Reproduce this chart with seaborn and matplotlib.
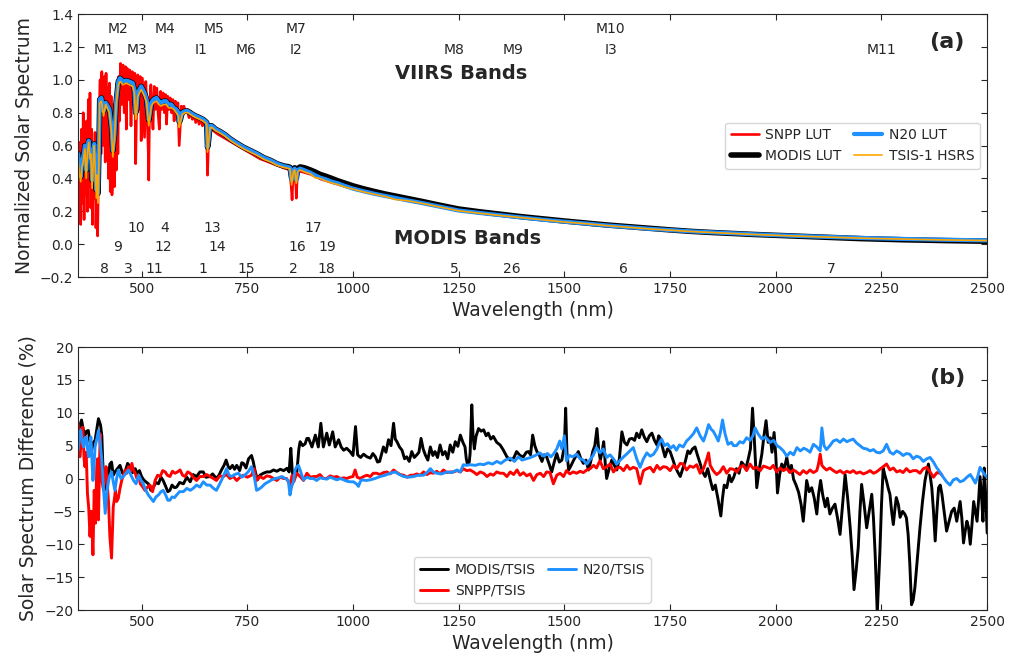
import matplotlib
matplotlib.use("Agg")
import matplotlib.pyplot as plt
import seaborn as sns

# ---- panel (a): normalized solar spectra ----
wl_lut = [350, 353, 356, 359, 362, 366, 369, 372, 375, 378,
          380, 383, 386, 388, 391, 393, 395, 397, 399, 401,
          405, 410, 415, 420, 424, 429, 432, 436, 440, 445,
          449, 456, 464, 471, 479, 483, 486, 488, 491, 499,
          507, 512, 517, 520, 523, 528, 535, 541, 546, 552,
          558, 564, 570, 576, 582, 587, 589, 591, 596, 603,
          609, 615, 621, 628, 637, 645, 650, 654, 656, 658,
          662, 666, 675, 686, 698, 710, 725, 741, 757, 773,
          790, 805, 820, 836, 846, 851, 855, 859, 862, 866,
          869, 875, 885, 899, 910, 922, 935, 950, 965, 980,
          1000, 1025, 1050, 1075, 1100, 1130, 1160, 1200, 1250, 1300,
          1350, 1400, 1450, 1500, 1550, 1600, 1650, 1700, 1750, 1800,
          1850, 1900, 1950, 2000, 2100, 2200, 2300, 2400, 2500]

n20_lut = [0.55, 0.47, 0.41, 0.50, 0.53, 0.60, 0.45, 0.58, 0.63, 0.55,
           0.57, 0.39, 0.55, 0.61, 0.45, 0.33, 0.45, 0.31, 0.55, 0.88,
           0.89, 0.81, 0.86, 0.84, 0.82, 0.71, 0.57, 0.67, 0.87, 0.99,
           1.01, 0.99, 0.995, 0.99, 0.98, 0.94, 0.80, 0.82, 0.92, 0.96,
           0.92, 0.88, 0.755, 0.80, 0.86, 0.88, 0.89, 0.87, 0.86, 0.87,
           0.87, 0.85, 0.85, 0.83, 0.82, 0.80, 0.745, 0.75, 0.80, 0.81,
           0.81, 0.80, 0.79, 0.78, 0.77, 0.76, 0.75, 0.74, 0.59, 0.62,
           0.72, 0.72, 0.70, 0.685, 0.665, 0.64, 0.615, 0.59, 0.57, 0.55,
           0.525, 0.51, 0.49, 0.475, 0.47, 0.465, 0.39, 0.45, 0.46, 0.39,
           0.45, 0.46, 0.45, 0.435, 0.42, 0.405, 0.395, 0.38, 0.37, 0.355,
           0.338, 0.322, 0.307, 0.294, 0.281, 0.266, 0.252, 0.231, 0.205, 0.19,
           0.176, 0.162, 0.149, 0.137, 0.126, 0.114, 0.104, 0.094, 0.086, 0.078,
           0.072, 0.066, 0.060, 0.055, 0.046, 0.038, 0.032, 0.027, 0.023]

modis_lut = [0.55, 0.47, 0.41, 0.50, 0.53, 0.60, 0.45, 0.58, 0.63, 0.55,
             0.57, 0.39, 0.55, 0.61, 0.45, 0.33, 0.45, 0.31, 0.55, 0.88,
             0.89, 0.81, 0.86, 0.84, 0.82, 0.71, 0.57, 0.67, 0.87, 0.99,
             1.01, 0.99, 0.995, 0.99, 0.98, 0.94, 0.80, 0.82, 0.92, 0.96,
             0.92, 0.88, 0.755, 0.80, 0.86, 0.88, 0.89, 0.87, 0.86, 0.87,
             0.87, 0.85, 0.85, 0.83, 0.82, 0.80, 0.745, 0.75, 0.80, 0.81,
             0.81, 0.80, 0.79, 0.78, 0.77, 0.76, 0.75, 0.74, 0.59, 0.62,
             0.72, 0.72, 0.70, 0.685, 0.665, 0.64, 0.615, 0.59, 0.57, 0.55,
             0.525, 0.51, 0.49, 0.476, 0.472, 0.468, 0.40, 0.455, 0.465, 0.40,
             0.46, 0.47, 0.465, 0.452, 0.44, 0.425, 0.414, 0.40, 0.385, 0.372,
             0.355, 0.337, 0.321, 0.306, 0.293, 0.277, 0.262, 0.24, 0.214, 0.197,
             0.182, 0.167, 0.154, 0.141, 0.129, 0.117, 0.107, 0.097, 0.087, 0.078,
             0.071, 0.065, 0.059, 0.054, 0.044, 0.034, 0.027, 0.022, 0.018]

tsis_lut = [0.52, 0.43, 0.38, 0.47, 0.50, 0.58, 0.40, 0.56, 0.62, 0.52,
            0.55, 0.34, 0.52, 0.60, 0.42, 0.28, 0.42, 0.25, 0.50, 0.86,
            0.87, 0.78, 0.85, 0.82, 0.80, 0.68, 0.53, 0.64, 0.85, 0.97,
            0.99, 0.97, 0.98, 0.97, 0.96, 0.92, 0.76, 0.80, 0.90, 0.94,
            0.90, 0.86, 0.72, 0.78, 0.84, 0.86, 0.87, 0.85, 0.84, 0.85,
            0.85, 0.83, 0.83, 0.82, 0.80, 0.78, 0.71, 0.73, 0.79, 0.80,
            0.80, 0.79, 0.78, 0.77, 0.76, 0.75, 0.74, 0.73, 0.56, 0.61,
            0.71, 0.71, 0.69, 0.675, 0.655, 0.63, 0.605, 0.58, 0.56, 0.54,
            0.515, 0.50, 0.48, 0.467, 0.462, 0.458, 0.36, 0.44, 0.452, 0.37,
            0.44, 0.452, 0.44, 0.428, 0.405, 0.40, 0.385, 0.372, 0.362, 0.348,
            0.335, 0.318, 0.304, 0.291, 0.272, 0.264, 0.25, 0.229, 0.203, 0.188,
            0.174, 0.161, 0.148, 0.135, 0.125, 0.113, 0.103, 0.093, 0.085, 0.077,
            0.071, 0.065, 0.059, 0.054, 0.045, 0.037, 0.031, 0.026, 0.022]

wl_snpp = [350, 352, 354, 356, 358, 360, 362, 364, 366, 368,
           370, 372, 374, 376, 378, 380, 382, 384, 386, 388,
           390, 392, 394, 396, 398, 400, 402, 404, 406, 408,
           410, 412, 414, 416, 418, 420, 422, 424, 426, 428,
           430, 432, 434, 436, 438, 440, 442, 444, 446, 448,
           450, 453, 456, 459, 462, 464, 466, 469, 472, 475,
           478, 481, 484, 486, 488, 491, 494, 497, 499, 502,
           505, 507, 510, 513, 516, 517, 519, 522, 525, 527,
           530, 533, 536, 539, 542, 545, 548, 551, 554, 557,
           559, 562, 565, 568, 571, 574, 577, 580, 583, 586,
           589, 591, 594, 597, 600, 604, 608, 612, 616, 620,
           624, 628, 632, 636, 640, 644, 648, 652, 655, 656,
           658, 661, 665, 670, 680, 690, 700, 710, 720, 730,
           740, 750, 760, 770, 780, 790, 800, 820, 840, 850,
           854, 856, 858, 862, 865, 866, 868, 872, 880, 900,
           925, 950, 1000, 1100, 1200, 1300, 1400, 1500, 1600, 1700,
           1800, 1900, 2000, 2100, 2200, 2300, 2400, 2500]

snpp_lut = [0.55, 0.18, 0.62, 0.12, 0.70, 0.25, 0.80, 0.15, 0.66, 0.30,
            0.75, 0.20, 0.88, 0.35, 0.92, 0.22, 0.70, 0.12, 0.60, 0.28,
            0.68, 0.10, 0.35, 0.05, 0.45, 0.82, 1.00, 0.55, 1.05, 0.60,
            0.75, 1.02, 0.50, 1.04, 0.62, 0.95, 0.40, 0.98, 0.32, 0.90,
            0.30, 0.45, 0.85, 0.35, 0.80, 0.45, 0.98, 0.55, 1.02, 0.75,
            1.10, 0.85, 1.09, 0.80, 1.08, 0.70, 1.07, 0.88, 1.06, 0.72,
            1.05, 0.85, 1.04, 0.49, 0.80, 1.03, 0.82, 1.02, 0.63, 1.01,
            0.80, 0.65, 0.99, 0.80, 0.55, 0.39, 0.85, 0.97, 0.78, 0.70,
            0.96, 0.82, 0.95, 0.80, 0.70, 0.93, 0.82, 0.92, 0.80, 0.91,
            0.73, 0.90, 0.82, 0.89, 0.80, 0.88, 0.75, 0.87, 0.80, 0.86,
            0.60, 0.70, 0.84, 0.78, 0.84, 0.80, 0.82, 0.77, 0.81, 0.76,
            0.79, 0.74, 0.78, 0.73, 0.77, 0.72, 0.75, 0.72, 0.55, 0.42,
            0.60, 0.72, 0.71, 0.69, 0.67, 0.655, 0.64, 0.625, 0.61, 0.595,
            0.58, 0.565, 0.55, 0.535, 0.52, 0.51, 0.50, 0.48, 0.46, 0.455,
            0.35, 0.27, 0.40, 0.445, 0.35, 0.28, 0.40, 0.445, 0.44, 0.425,
            0.395, 0.375, 0.338, 0.28, 0.23, 0.19, 0.163, 0.136, 0.113, 0.094,
            0.078, 0.066, 0.055, 0.046, 0.038, 0.032, 0.027, 0.023]

# band annotations (centre wavelengths)
viirs_top = ["M2", "M4", "M5", "M7", "M10"]
viirs_top_wl = [445, 555, 672, 865, 1610]
viirs_low = ["M1", "M3", "I1", "M6", "I2", "M8", "M9", "I3", "M11"]
viirs_low_wl = [412, 488, 640, 746, 865, 1240, 1378, 1610, 2250]
modis_r1 = ["10", "4", "13", "17"]
modis_r1_wl = [488, 555, 667, 905]
modis_r2 = ["9", "12", "14", "16", "19"]
modis_r2_wl = [443, 551, 678, 869, 940]
modis_r3 = ["8", "3", "11", "1", "15", "2", "18", "5", "26", "6", "7"]
modis_r3_wl = [412, 469, 531, 645, 748, 858, 936, 1240, 1375, 1640, 2130]

# ---- panel (b): differences relative to TSIS (%) ----
wl_modis_d = [350, 353, 358, 362, 366, 370, 374, 378, 382, 386,
              390, 394, 398, 403, 406, 408, 412, 417, 422, 425,
              429, 433, 437, 443, 449, 455, 461, 467, 473, 479,
              485, 489, 495, 500, 505, 510, 516, 522, 528, 534,
              540, 546, 551, 557, 562, 567, 572, 578, 583, 590,
              599, 607, 615, 622, 630, 638, 646, 652, 662, 668,
              677, 683, 689, 695, 700, 705, 709, 715, 720, 725,
              732, 737, 741, 747, 753, 760, 764, 768, 774, 780,
              788, 796, 804, 812, 820, 828, 836, 844, 849, 853,
              856, 859, 864, 867, 872, 875, 881, 887, 891, 895,
              903, 911, 918, 924, 930, 938, 944, 952, 958, 966,
              972, 978, 985, 993, 1000, 1006, 1011, 1018, 1025, 1033,
              1041, 1047, 1053, 1058, 1063, 1068, 1072, 1078, 1084, 1090,
              1096, 1100, 1104, 1110, 1116, 1122, 1127, 1133, 1139, 1145,
              1151, 1156, 1161, 1166, 1171, 1177, 1183, 1189, 1194, 1200,
              1206, 1212, 1218, 1224, 1230, 1236, 1242, 1248, 1254, 1260,
              1265, 1268, 1271, 1275, 1277, 1281, 1284, 1287, 1291, 1297,
              1303, 1309, 1315, 1320, 1326, 1332, 1340, 1348, 1355, 1364,
              1372, 1380, 1387, 1395, 1403, 1410, 1415, 1420, 1425, 1430,
              1435, 1441, 1447, 1452, 1458, 1464, 1470, 1476, 1482, 1488,
              1494, 1500, 1503, 1506, 1510, 1516, 1522, 1528, 1533, 1539,
              1545, 1551, 1557, 1562, 1567, 1572, 1577, 1581, 1585, 1589,
              1593, 1597, 1600, 1606, 1612, 1618, 1624, 1630, 1636, 1642,
              1648, 1654, 1660, 1666, 1671, 1677, 1683, 1689, 1695, 1701,
              1707, 1713, 1719, 1723, 1727, 1733, 1738, 1744, 1750, 1756,
              1762, 1768, 1774, 1780, 1786, 1792, 1797, 1803, 1809, 1815,
              1821, 1827, 1833, 1839, 1845, 1851, 1857, 1863, 1867, 1870,
              1874, 1878, 1884, 1890, 1895, 1900, 1907, 1913, 1919, 1923,
              1929, 1935, 1940, 1945, 1950, 1955, 1961, 1967, 1972, 1977,
              1982, 1987, 1991, 1996, 2000, 2004, 2009, 2014, 2020, 2026,
              2032, 2037, 2042, 2048, 2054, 2060, 2065, 2069, 2073, 2079,
              2085, 2091, 2097, 2101, 2106, 2111, 2117, 2122, 2128, 2134,
              2140, 2146, 2152, 2158, 2164, 2170, 2176, 2181, 2185, 2190,
              2195, 2199, 2203, 2209, 2215, 2221, 2227, 2231, 2235, 2240,
              2243, 2246, 2250, 2254, 2258, 2262, 2266, 2270, 2274, 2278,
              2282, 2285, 2290, 2294, 2300, 2305, 2309, 2313, 2317, 2321,
              2325, 2329, 2335, 2341, 2347, 2353, 2357, 2361, 2365, 2369,
              2373, 2377, 2381, 2385, 2389, 2393, 2398, 2404, 2410, 2416,
              2422, 2428, 2432, 2436, 2440, 2444, 2448, 2452, 2456, 2460,
              2464, 2468, 2472, 2476, 2480, 2483, 2487, 2490, 2493, 2496,
              2500]

modis_d = [7.0, 7.8, 8.9, 7.5, 6.6, 7.2, 7.3, 5.5, 4.3, 5.5,
           5.8, 7.5, 9.1, 8.1, 6.5, 2.8, -1.8, 1.3, 0.5, 2.2,
           2.5, 0.5, 1.0, 1.5, 2.0, 0.8, 1.0, 2.3, 1.8, 0.9,
           1.5, 0.8, 1.2, 0.3, -0.2, -0.5, -0.8, -1.8, -1.3, -0.6,
           -0.8, 0.2, -0.3, -1.2, -2.0, -1.8, -1.0, -1.4, -1.3, -0.6,
           -0.8, 0.2, -0.5, 0.6, 0.3, 1.0, 1.0, 0.2, 0.3, 0.7,
           0.0, 0.5, 1.3, 2.0, 2.8, 1.8, 1.5, 2.0, 1.4, 2.0,
           1.2, 2.4, 2.3, 1.6, 3.0, 3.5, 2.6, 1.3, -0.2, 0.5,
           0.8, 1.0, 1.0, 1.3, 1.1, 1.4, 1.2, 1.55, 1.0, 4.6,
           1.5, -0.2, 1.0, 0.8, 4.5, 5.6, 5.0, 5.3, 6.1, 6.1,
           4.8, 6.6, 4.8, 8.4, 4.8, 6.9, 5.1, 7.1, 4.8, 5.9,
           4.8, 4.3, 4.6, 4.1, 3.5, 7.9, 3.6, 3.2, 3.7, 3.3,
           3.1, 3.8, 3.3, 2.5, 2.6, 3.8, 4.8, 4.0, 5.9, 5.0,
           8.4, 6.0, 5.6, 4.8, 4.3, 3.0, 3.3, 2.6, 4.1, 3.2,
           3.6, 4.0, 6.1, 4.5, 3.6, 2.8, 4.8, 3.5, 4.1, 3.2,
           5.1, 3.6, 4.1, 3.0, 5.1, 4.0, 5.6, 4.9, 6.6, 5.5,
           4.8, 3.0, 2.1, 2.5, 3.8, 11.2, 6.5, 4.5, 6.4, 7.6,
           7.2, 7.4, 6.5, 6.9, 6.0, 6.4, 5.5, 5.1, 4.4, 3.3,
           2.8, 3.1, 4.1, 3.5, 3.3, 4.0, 4.1, 3.6, 6.6, 5.0,
           4.1, 3.5, 2.6, 3.6, 3.3, 2.2, 1.0, 2.5, 3.8, 2.5,
           2.8, 5.0, 10.7, 4.0, 1.3, 2.0, 2.8, 3.5, 4.1, 3.0,
           2.3, 2.8, 1.3, 2.5, 4.1, 5.0, 7.6, 4.5, 2.8, 4.0,
           5.6, 2.0, 0.0, 1.5, 2.8, 2.0, 1.3, 3.0, 7.1, 5.5,
           5.1, 6.0, 6.1, 5.8, 6.9, 6.2, 7.4, 6.3, 5.6, 6.5,
           6.9, 5.8, 5.1, 6.5, 6.1, 4.5, 3.3, 4.5, 4.1, 3.0,
           1.8, 1.0, 0.3, 1.5, 2.6, 4.2, 3.8, 4.5, 4.8, 3.5,
           2.3, 1.0, 0.3, 1.5, -0.2, -1.7, -1.0, -3.0, -4.5, -5.7,
           -3.0, -1.0, -1.4, 0.5, -0.5, 0.1, 1.5, 0.8, 2.5, 2.2,
           1.5, 3.0, 4.5, 10.7, 5.0, -1.4, 1.5, 3.7, 6.5, 8.8,
           5.5, 6.2, 4.0, 7.0, 3.5, -2.2, 0.5, 2.2, 1.5, 3.2,
           1.0, 2.0, -0.1, -1.0, -2.1, -4.0, -6.5, -3.5, -0.3, -2.0,
           -1.4, -3.0, -5.4, -2.5, -0.3, -2.5, -4.3, -3.0, -5.4, -4.5,
           -3.9, -6.0, -8.5, -4.0, 0.6, -3.0, -7.5, -12.0, -16.9, -14.0,
           -10.5, -5.0, -0.9, -4.0, -7.5, -5.0, -2.4, -6.0, -11.5, -20.5,
           -16.0, -11.5, -4.0, 1.6, 0.5, -0.4, -1.5, -2.4, -5.0, -7.0,
           -4.5, -2.9, -4.0, -5.9, -5.0, -5.4, -6.0, -8.5, -13.0, -19.2,
           -18.5, -16.6, -12.0, -7.5, -3.5, -0.3, 1.0, 2.2, 0.5, -1.4,
           -5.0, -9.5, -5.0, -1.4, -1.0, -2.4, -5.0, -8.0, -6.5, -5.0,
           -4.5, -6.5, -5.0, -3.5, -6.0, -9.8, -8.0, -6.5, -7.5, -10.0,
           -7.0, -3.5, -5.0, -6.5, -3.0, 0.3, -3.0, -6.5, 1.6, -2.0,
           -8.3]

wl_snpp_d = [350, 354, 358, 361, 364, 366, 369, 372, 375, 378,
             381, 385, 388, 391, 394, 396, 398, 402, 404, 406,
             410, 413, 416, 419, 422, 425, 429, 431, 433, 436,
             438, 441, 445, 449, 453, 457, 461, 465, 469, 473,
             477, 481, 485, 489, 493, 497, 502, 508, 514, 520,
             526, 532, 538, 544, 550, 556, 561, 567, 573, 579,
             585, 591, 597, 603, 609, 615, 622, 630, 638, 646,
             654, 662, 670, 677, 685, 693, 701, 709, 717, 725,
             733, 741, 750, 760, 766, 772, 780, 788, 796, 804,
             812, 820, 828, 836, 843, 851, 856, 860, 867, 875,
             883, 891, 899, 907, 914, 922, 930, 938, 946, 954,
             962, 970, 978, 985, 993, 1000, 1005, 1010, 1017, 1025,
             1033, 1041, 1048, 1056, 1064, 1072, 1080, 1088, 1096, 1104,
             1112, 1120, 1128, 1136, 1143, 1151, 1159, 1167, 1175, 1183,
             1190, 1198, 1206, 1214, 1222, 1230, 1238, 1246, 1254, 1261,
             1269, 1277, 1285, 1293, 1301, 1309, 1317, 1325, 1332, 1340,
             1348, 1356, 1364, 1372, 1380, 1388, 1395, 1403, 1411, 1419,
             1427, 1435, 1443, 1451, 1458, 1466, 1474, 1482, 1490, 1498,
             1505, 1513, 1521, 1529, 1537, 1545, 1553, 1561, 1569, 1576,
             1584, 1592, 1600, 1608, 1616, 1624, 1632, 1640, 1648, 1655,
             1663, 1671, 1679, 1687, 1695, 1703, 1711, 1719, 1726, 1734,
             1742, 1750, 1758, 1766, 1774, 1781, 1789, 1797, 1805, 1813,
             1821, 1829, 1837, 1841, 1845, 1852, 1860, 1868, 1876, 1884,
             1892, 1900, 1908, 1915, 1923, 1931, 1939, 1947, 1955, 1963,
             1971, 1979, 1987, 1994, 2002, 2010, 2018, 2026, 2034, 2042,
             2049, 2057, 2065, 2073, 2081, 2089, 2097, 2101, 2105, 2109,
             2113, 2120, 2128, 2136, 2144, 2152, 2160, 2168, 2176, 2183,
             2191, 2199, 2207, 2215, 2223, 2231, 2238, 2246, 2254, 2262,
             2270, 2278, 2286, 2294, 2301, 2309, 2317, 2325, 2333, 2341,
             2349, 2357, 2365, 2373, 2381, 2389, 2393]

snpp_d = [8.3, 3.3, 6.0, 7.8, 3.0, 1.8, 4.0, -2.3, -4.5, -8.8,
          -5.0, -11.6, -1.8, -6.8, 1.8, 3.0, -6.3, 6.8, 2.0, -0.3,
          -1.8, 0.5, 1.8, -1.0, -3.8, -8.8, -12.1, -8.0, -4.3, -3.0,
          -1.8, -3.5, -3.0, -1.5, -0.3, 0.5, 1.3, 0.8, 1.8, 1.0,
          2.3, 1.2, 0.8, 0.0, 0.5, -0.8, -1.2, -1.8, -1.3, -1.0,
          -2.0, -0.3, 0.5, 0.3, 1.2, 1.0, 0.5, 0.3, 1.1, 0.8,
          1.0, 1.3, 0.5, 0.3, 1.0, 0.8, 0.2, -0.3, 0.3, 0.3,
          0.6, 0.3, 0.0, -0.3, 0.4, 0.3, 0.6, 0.0, 0.3, -0.3,
          0.2, 0.5, 0.2, 0.5, 1.5, -0.3, 0.3, 0.0, 0.4, 0.3,
          0.0, -0.3, 0.2, 0.0, 0.0, -1.0, 0.5, -0.5, 0.8, 0.3,
          -0.3, 0.8, 0.2, 0.3, 0.3, 0.6, 0.0, 0.0, 0.4, 0.2,
          0.3, 0.0, 0.1, 0.0, 0.2, 0.3, 1.3, 0.2, 0.0, 0.3,
          0.5, 0.3, 0.8, 0.8, 0.6, 0.9, 1.0, 0.7, 1.3, 0.9,
          0.6, 0.5, 0.2, 0.5, 0.5, 0.7, 0.5, 1.0, 0.6, 0.9,
          0.8, 1.1, 0.7, 1.3, 0.9, 1.0, 1.0, 1.2, 1.0, 1.5,
          1.2, 1.3, 1.0, 0.6, 1.0, 0.8, 0.3, 0.7, 0.5, 1.0,
          0.8, 0.8, 0.3, 1.0, 0.6, 1.3, 0.5, 0.9, 0.4, 0.7,
          -0.3, 0.6, 0.8, 0.3, 1.0, 0.9, -0.8, 0.5, 0.8, 0.3,
          1.2, 0.7, 1.0, 0.8, 1.1, 0.9, 1.3, 1.5, 2.0, 1.6,
          2.7, 1.5, 1.8, 2.2, 1.0, 1.6, 1.7, 1.2, 2.0, 1.4,
          1.7, 1.5, -0.8, 1.2, 1.5, 1.7, 1.0, 2.0, 1.4, 1.8,
          1.7, 1.2, 2.0, 1.5, 2.3, 2.2, 1.3, 1.9, 1.7, 2.1,
          0.8, 1.5, 3.0, 3.9, 2.0, 1.2, 0.6, 1.0, 1.8, 0.8,
          1.5, 1.4, 1.0, 1.7, 2.0, 1.2, 2.2, 1.5, 1.7, 1.2,
          1.9, 1.7, 1.5, 2.0, 1.0, 1.6, 1.2, 1.5, 0.9, 1.3,
          1.0, 0.6, 1.2, 0.8, 1.3, 0.9, 1.2, 2.2, 3.7, 2.0,
          1.7, 1.3, 1.6, 1.2, 0.9, 1.2, 0.8, 1.1, 0.9, 1.2,
          0.8, 1.0, 0.7, 0.9, 1.2, 0.8, 1.0, 1.4, 1.8, 2.2,
          1.3, 1.6, 1.0, 1.2, 0.9, 1.5, 1.0, 1.2, 1.2, 0.8,
          1.5, 1.7, 1.0, 0.2, 0.9, 0.8, 0.5]

wl_n20_d = [350, 353, 356, 360, 363, 366, 369, 372, 375, 378,
            380, 383, 385, 388, 390, 394, 398, 402, 406, 410,
            414, 418, 422, 425, 429, 433, 437, 441, 445, 451,
            457, 463, 469, 475, 481, 487, 493, 499, 504, 510,
            516, 522, 528, 534, 540, 546, 551, 557, 562, 567,
            572, 578, 583, 590, 599, 607, 615, 622, 630, 638,
            646, 654, 662, 670, 677, 685, 693, 701, 707, 713,
            720, 729, 737, 744, 752, 760, 766, 772, 778, 784,
            792, 800, 808, 816, 824, 832, 840, 847, 851, 855,
            859, 863, 867, 871, 875, 879, 883, 891, 899, 907,
            914, 922, 930, 938, 946, 954, 962, 970, 978, 985,
            993, 1001, 1008, 1013, 1017, 1021, 1031, 1041, 1052, 1064,
            1076, 1088, 1100, 1110, 1120, 1131, 1143, 1155, 1167, 1175,
            1183, 1190, 1198, 1210, 1222, 1234, 1246, 1254, 1261, 1269,
            1277, 1289, 1300, 1309, 1320, 1330, 1340, 1350, 1360, 1372,
            1382, 1391, 1400, 1410, 1420, 1431, 1442, 1451, 1460, 1468,
            1474, 1482, 1489, 1494, 1500, 1505, 1512, 1520, 1529, 1537,
            1545, 1553, 1560, 1568, 1576, 1584, 1592, 1600, 1608, 1616,
            1624, 1632, 1640, 1647, 1655, 1663, 1671, 1679, 1687, 1695,
            1703, 1711, 1719, 1725, 1730, 1737, 1744, 1751, 1758, 1765,
            1772, 1781, 1789, 1797, 1805, 1813, 1821, 1829, 1835, 1841,
            1847, 1852, 1858, 1864, 1869, 1874, 1880, 1887, 1895, 1900,
            1907, 1915, 1923, 1931, 1939, 1946, 1951, 1958, 1967, 1975,
            1987, 1995, 2003, 2010, 2018, 2026, 2034, 2042, 2050, 2058,
            2066, 2073, 2081, 2089, 2097, 2105, 2109, 2114, 2120, 2128,
            2136, 2144, 2152, 2160, 2168, 2175, 2183, 2191, 2199, 2207,
            2215, 2223, 2231, 2238, 2246, 2254, 2262, 2270, 2278, 2286,
            2294, 2301, 2309, 2317, 2325, 2333, 2341, 2349, 2357, 2365,
            2373, 2380, 2388, 2396, 2404, 2412, 2420, 2428, 2436, 2444,
            2452, 2460, 2466, 2472, 2478, 2483, 2488, 2494, 2500]

n20_d = [4.3, 6.5, 7.3, 5.5, 4.8, 6.0, 6.3, 4.5, 3.3, 5.0,
         6.3, 2.5, -0.3, 2.5, 4.8, 6.0, 7.3, 5.5, 2.8, -1.5,
         -5.3, -2.0, -0.3, 0.5, 1.0, -0.5, -1.8, 0.0, 1.3, 0.0,
         0.3, 0.8, 1.3, 0.5, -0.3, -0.8, 0.5, -0.3, -0.8, -1.8,
         -2.5, -3.0, -3.5, -2.8, -2.5, -2.0, -1.8, -2.5, -3.3, -3.3,
         -2.8, -2.9, -2.5, -2.0, -2.0, -1.5, -1.8, -1.5, -1.0, -1.3,
         -0.5, -1.0, -1.0, -1.5, -1.8, -0.8, 0.3, 1.5, 0.5, 0.3,
         0.6, 0.8, 0.2, 0.5, 1.0, 1.8, 0.5, -1.8, -1.6, -1.3,
         -0.8, -0.5, -0.2, 0.0, 0.1, 0.3, 0.0, -0.3, -2.5, -1.2,
         -0.5, 1.3, 1.8, 2.0, 1.3, 0.5, -0.2, 0.2, 0.0, 0.0,
         -0.3, 0.1, 0.0, -0.1, 0.2, 0.0, -0.2, 0.0, -0.2, -0.4,
         -0.5, -0.5, -0.8, -1.2, -0.5, -0.2, -0.3, -0.2, 0.0, 0.3,
         0.5, 0.8, 1.0, 0.6, 0.3, 0.2, 0.3, 0.5, 0.5, 0.9,
         1.5, 1.0, 0.8, 0.7, 1.0, 0.9, 1.3, 1.0, 2.1, 2.0,
         2.1, 2.0, 2.2, 2.1, 2.4, 2.2, 2.6, 2.3, 2.8, 3.1,
         2.6, 3.3, 2.8, 3.0, 3.2, 3.5, 3.9, 3.4, 3.8, 3.3,
         3.7, 4.5, 5.7, 4.5, 6.5, 2.7, 3.5, 3.3, 3.7, 3.0,
         2.8, 2.2, 2.8, 3.5, 4.7, 3.9, 4.5, 3.2, 3.6, 3.0,
         2.2, 2.8, 3.3, 3.7, 4.2, 4.7, 3.0, 1.7, 3.0, 3.9,
         3.4, 3.7, 4.5, 5.5, 6.0, 5.0, 5.3, 4.6, 5.0, 4.3,
         5.1, 4.8, 5.7, 6.2, 6.8, 7.7, 6.5, 5.7, 6.8, 8.2,
         7.5, 7.2, 6.5, 5.7, 7.0, 8.9, 6.8, 5.2, 5.5, 5.0,
         5.0, 5.6, 5.4, 6.2, 5.8, 6.5, 7.7, 6.8, 6.0, 6.3,
         5.5, 5.8, 5.0, 4.7, 4.2, 3.4, 4.0, 3.6, 4.7, 4.2,
         4.6, 4.4, 4.0, 5.2, 4.8, 4.2, 7.7, 5.0, 4.4, 5.0,
         5.7, 5.9, 5.5, 6.0, 5.6, 5.8, 6.0, 5.4, 5.0, 4.6,
         4.5, 4.2, 4.4, 4.0, 3.9, 4.2, 5.2, 4.0, 3.7, 4.2,
         3.9, 3.5, 3.8, 3.7, 3.0, 3.4, 3.2, 2.6, 3.0, 3.2,
         2.5, 1.7, 1.0, 0.2, -0.5, -1.0, -0.2, 0.0, -0.5, -0.3,
         0.2, 0.6, 0.0, -0.7, 0.4, 1.7, 1.2, 0.6, 0.2]

blue = "#1e90ff"

sns.set_style("ticks")
plt.rcParams["font.family"] = ["DejaVu Sans"]

fig = plt.figure(figsize=(10.15, 6.55), dpi=100)
ax1 = fig.add_axes([0.077, 0.577, 0.8956, 0.4015])
ax2 = fig.add_axes([0.077, 0.0687, 0.8956, 0.4015])

# panel (a)
sns.lineplot(x=wl_snpp, y=snpp_lut, ax=ax1, color="red", linewidth=1.9,
             label="SNPP LUT", sort=False, estimator=None)
sns.lineplot(x=wl_lut, y=modis_lut, ax=ax1, color="black", linewidth=4,
             label="MODIS LUT", sort=False, estimator=None)
sns.lineplot(x=wl_lut, y=n20_lut, ax=ax1, color=blue, linewidth=3,
             label="N20 LUT", sort=False, estimator=None)
sns.lineplot(x=wl_lut, y=tsis_lut, ax=ax1, color="orange", linewidth=1.2,
             label="TSIS-1 HSRS", sort=False, estimator=None)

ax1.set_xlim(350, 2500)
ax1.set_ylim(-0.2, 1.4)
ax1.set_xticks([500, 750, 1000, 1250, 1500, 1750, 2000, 2250, 2500])
ax1.set_yticks([-0.2, 0.0, 0.2, 0.4, 0.6, 0.8, 1.0, 1.2, 1.4])
ax1.set_xlabel("Wavelength (nm)", fontsize=13.5)
ax1.set_ylabel("Normalized Solar Spectrum", fontsize=13.5)
ax1.legend(loc="center right", ncol=2, fontsize=10, handlelength=2.0,
           columnspacing=0.9, handletextpad=0.5)

for lab, w in zip(viirs_top, viirs_top_wl):
    ax1.text(w, 1.31, lab, ha="center", va="center", fontsize=10)
for lab, w in zip(viirs_low, viirs_low_wl):
    ax1.text(w, 1.18, lab, ha="center", va="center", fontsize=10)
for lab, w in zip(modis_r1, modis_r1_wl):
    ax1.text(w, 0.10, lab, ha="center", va="center", fontsize=10)
for lab, w in zip(modis_r2, modis_r2_wl):
    ax1.text(w, -0.02, lab, ha="center", va="center", fontsize=10)
for lab, w in zip(modis_r3, modis_r3_wl):
    ax1.text(w, -0.15, lab, ha="center", va="center", fontsize=10)
ax1.text(1256, 1.04, "VIIRS Bands", ha="center", va="center",
         fontsize=14, fontweight="bold")
ax1.text(1272, 0.033, "MODIS Bands", ha="center", va="center",
         fontsize=14, fontweight="bold")
ax1.text(2405, 1.23, "(a)", ha="center", va="center", fontsize=16,
         fontweight="bold")

# panel (b)
sns.lineplot(x=wl_modis_d, y=modis_d, ax=ax2, color="black", linewidth=2.1,
             label="MODIS/TSIS", sort=False, estimator=None)
sns.lineplot(x=wl_snpp_d, y=snpp_d, ax=ax2, color="red", linewidth=2.1,
             label="SNPP/TSIS", sort=False, estimator=None)
sns.lineplot(x=wl_n20_d, y=n20_d, ax=ax2, color=blue, linewidth=2.1,
             label="N20/TSIS", sort=False, estimator=None)

ax2.set_xlim(350, 2500)
ax2.set_ylim(-20, 20)
ax2.set_xticks([500, 750, 1000, 1250, 1500, 1750, 2000, 2250, 2500])
ax2.set_yticks([-20, -15, -10, -5, 0, 5, 10, 15, 20])
ax2.set_xlabel("Wavelength (nm)", fontsize=13.5)
ax2.set_ylabel("Solar Spectrum Difference (%)", fontsize=13.5)
ax2.legend(loc="lower center", ncol=2, fontsize=10, handlelength=2.0,
           columnspacing=0.9, handletextpad=0.5)
ax2.text(2405, 15.3, "(b)", ha="center", va="center", fontsize=16,
         fontweight="bold")

for ax in (ax1, ax2):
    ax.tick_params(direction="in", top=True, right=True, length=4,
                   labelsize=10)

fig.savefig("out.png", dpi=100)
